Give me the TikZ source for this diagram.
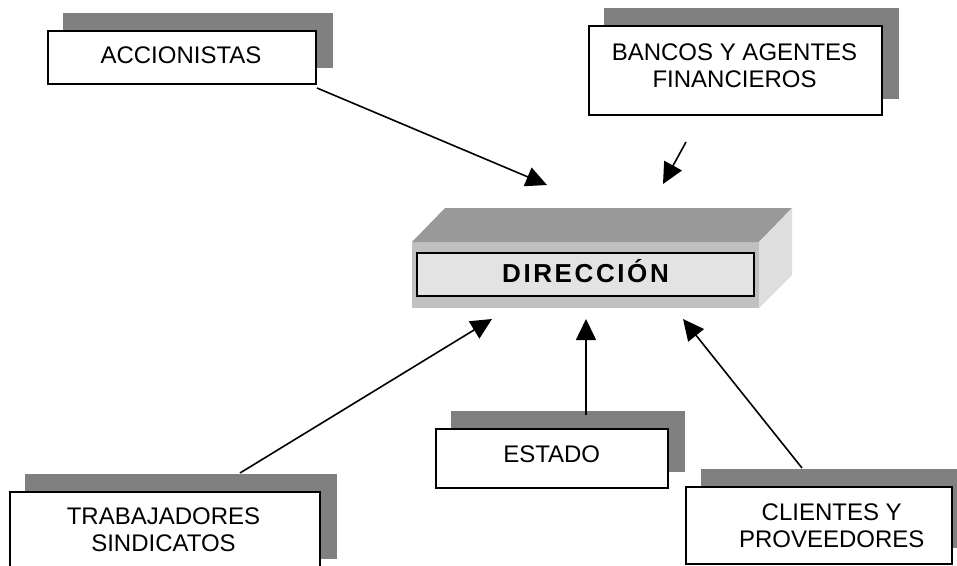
\documentclass[tikz,border=0pt]{standalone}
\usepackage{fontspec}
\setmainfont{Liberation Sans}
\newfontfamily\dirfont[LetterSpace=10]{Liberation Sans}
\usetikzlibrary{arrows.meta,backgrounds}
\definecolor{shadowgray}{HTML}{808080}
\definecolor{topface}{HTML}{999999}
\definecolor{frontface}{HTML}{C0C0C0}
\definecolor{sideface}{HTML}{DEDEDE}
\definecolor{innerface}{HTML}{E3E3E3}
\begin{document}
\begin{tikzpicture}[x=1pt,y=-1pt,
  box/.style={draw=black, line width=1.8pt, fill=white, inner sep=0pt},
  lbl/.style={font=\fontsize{24}{27}\selectfont, align=center, inner sep=0pt},
  arr/.style={line width=1.6pt, -{Triangle[length=21pt,width=20pt]}},
  shadowbox/.style={fill=shadowgray}]
\useasboundingbox (0,0) rectangle (957,565);
\clip (0,0) rectangle (957,565);

% boxes
\node[box, minimum width=268pt, minimum height=53pt] (acc) at (182,57.5) {};
\node[box, minimum width=293pt, minimum height=89pt] (ban) at (735.5,70.5) {};
\node[box, minimum width=310pt, minimum height=83pt] (tra) at (165,533.5) {};
\node[box, minimum width=232pt, minimum height=59pt] (est) at (552,458.5) {};
\node[box, minimum width=266pt, minimum height=77pt] (cli) at (819,525.5) {};

% shadows
\begin{scope}[on background layer]
  \foreach \n in {acc,ban,tra,est,cli}
    \fill[shadowbox] ([xshift=16pt,yshift=17pt]\n.south west) rectangle ([xshift=16pt,yshift=17pt]\n.north east);
\end{scope}

% labels
\node[lbl] (acct) at (181,55.3) {ACCIONISTAS};
\node[lbl] (bant) at (734.5,66) {BANCOS Y AGENTES\\FINANCIEROS};
\node[lbl] (trat) at (163.5,529.6) {TRABAJADORES\\SINDICATOS};
\node[lbl] (estt) at (551.7,453.8) {ESTADO};
\node[lbl] (clit) at (831.7,525.8) {CLIENTES Y\\PROVEEDORES};

% 3D block DIRECCION
\fill[frontface] (412,242) rectangle (759,308);
\fill[topface] (412,242) -- (445,208) -- (792,208) -- (759,242) -- cycle;
\fill[sideface] (759,242) -- (792,208) -- (792,275) -- (759,308) -- cycle;
\node[box, fill=innerface, minimum width=337pt, minimum height=43pt] (dir) at (585.5,274.5) {};
\node[inner sep=0pt, anchor=base, font=\dirfont\bfseries\fontsize{26}{29}\selectfont] (dirt) at (585.5,282.5) {DIRECCIÓN};

% arrow end points
\coordinate (a1s) at (317,88);  \coordinate (a1e) at (547,185);
\coordinate (a2s) at (686,142); \coordinate (a2e) at (663,184);
\coordinate (a3s) at (240,473); \coordinate (a3e) at (492,319);
\coordinate (a4s) at (586,415); \coordinate (a4e) at (586,319);
\coordinate (a5s) at (802,468); \coordinate (a5e) at (683,319);

\draw[arr] (a1s) -- (a1e);
\draw[arr] (a2s) -- (a2e);
\draw[arr] (a3s) -- (a3e);
\draw[arr] (a4s) -- (a4e);
\draw[arr] (a5s) -- (a5e);
\end{tikzpicture}
\end{document}
